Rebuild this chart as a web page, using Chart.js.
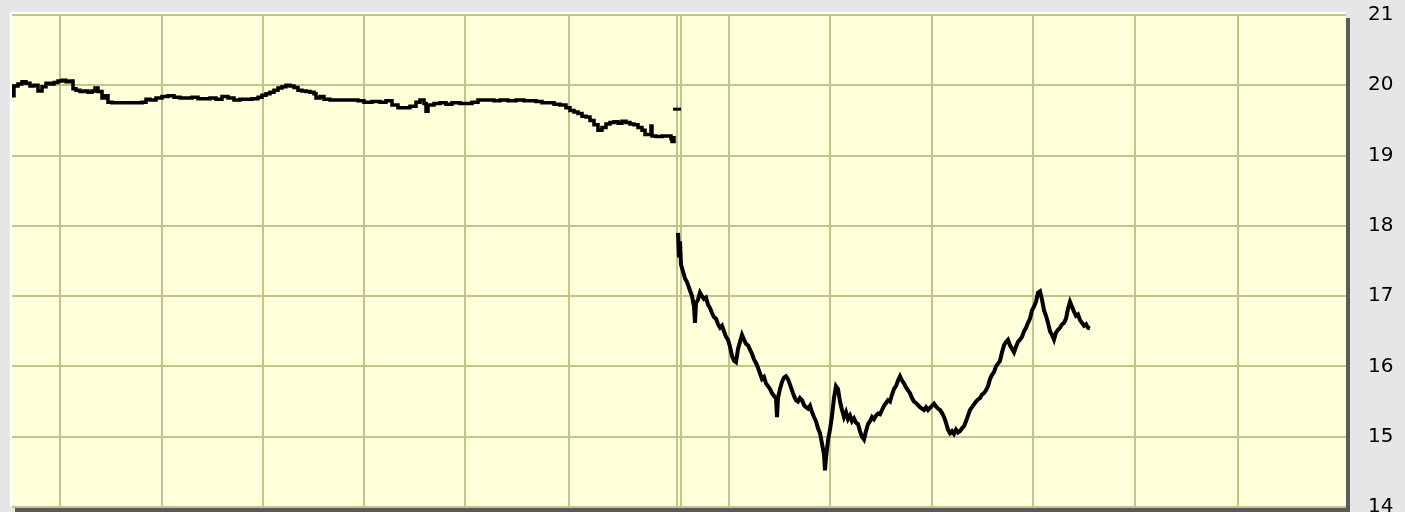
<!DOCTYPE html>
<html>
<head>
<meta charset="utf-8">
<script src="https://cdn.jsdelivr.net/npm/chart.js@4.4.1/dist/chart.umd.min.js"></script>
<style>
  html, body { margin: 0; padding: 0; background: #e6e6e6; }
  #wrap { width: 1405px; height: 512px; position: relative; }
</style>
</head>
<body>
<div id="wrap"><canvas id="price-chart"></canvas></div>
<script>
// price values; t is the time axis position
const preT = [12,13,14,18,22,26,30,34,38,42,46,50,54,58,62,66,70,73,76,80,84,88,92,95,98,102,105,108,112,120,128,136,142,146,150,156,162,168,174,180,186,192,198,204,210,216,222,228,234,240,246,252,258,262,266,270,274,278,282,286,290,294,298,302,306,310,314,316,320,324,330,340,350,358,364,372,380,386,392,398,404,410,416,420,424,426,428,434,440,446,452,460,466,472,478,486,494,500,508,516,524,530,536,542,548,554,560,566,570,574,578,582,586,590,594,598,602,606,610,614,618,622,626,630,634,638,642,645,648,651,652,656,662,668,671,672,674];
const prePrice = [19.99,19.85,19.99,20.02,20.05,20.03,19.99,20.0,19.92,19.98,20.03,20.02,20.04,20.06,20.07,20.05,20.06,19.95,19.93,19.91,19.92,19.9,19.92,19.96,19.91,19.82,19.85,19.76,19.75,19.75,19.75,19.75,19.76,19.8,19.79,19.82,19.84,19.85,19.83,19.82,19.82,19.83,19.81,19.81,19.82,19.8,19.84,19.82,19.79,19.8,19.8,19.81,19.83,19.86,19.88,19.9,19.93,19.96,19.98,20.0,19.99,19.97,19.93,19.92,19.91,19.9,19.88,19.82,19.84,19.8,19.79,19.79,19.79,19.78,19.76,19.77,19.76,19.78,19.72,19.68,19.68,19.7,19.76,19.79,19.74,19.63,19.72,19.74,19.75,19.73,19.75,19.74,19.74,19.76,19.79,19.79,19.78,19.79,19.78,19.79,19.78,19.78,19.77,19.75,19.75,19.73,19.72,19.68,19.64,19.62,19.6,19.56,19.55,19.5,19.44,19.36,19.4,19.45,19.47,19.48,19.46,19.49,19.47,19.45,19.44,19.4,19.36,19.3,19.3,19.42,19.28,19.27,19.28,19.28,19.24,19.2,19.28];

const gapT = [673, 681];
const gapPrice = [19.66, 19.66];

const postT = [678,679,680,681,683,685,687,690,692,694,695,696,698,700,702,704,706,708,710,712,714,716,718,720,722,724,726,728,730,732,734,736,738,740,742,744,746,748,750,752,754,756,758,760,762,764,766,768,770,772,774,776,777,778,780,782,784,786,788,790,792,794,796,798,800,802,804,806,808,810,812,814,816,818,820,822,824,825,826,828,830,832,834,836,838,840,842,844,846,848,850,852,854,856,858,860,862,864,866,868,870,872,874,876,878,880,882,884,886,888,890,892,894,896,898,900,902,904,906,908,910,912,914,916,918,920,922,924,926,928,930,932,934,936,938,940,942,944,946,948,950,952,954,956,958,960,962,964,966,968,970,972,974,976,978,980,982,984,986,988,990,992,994,996,998,1000,1002,1004,1006,1008,1010,1012,1014,1016,1018,1020,1022,1024,1026,1028,1030,1032,1034,1036,1038,1040,1042,1044,1046,1048,1050,1052,1054,1056,1058,1060,1062,1064,1066,1068,1070,1072,1074,1076,1078,1080,1082,1084,1086,1088,1090];
const postPrice = [17.9,17.55,17.78,17.45,17.35,17.25,17.2,17.08,17.0,16.85,16.62,16.9,16.95,17.05,17.0,16.96,16.98,16.88,16.83,16.76,16.7,16.68,16.6,16.55,16.58,16.5,16.42,16.38,16.28,16.15,16.08,16.06,16.25,16.35,16.45,16.38,16.32,16.3,16.24,16.18,16.1,16.05,15.98,15.9,15.82,15.85,15.76,15.72,15.68,15.62,15.58,15.55,15.28,15.55,15.68,15.78,15.84,15.86,15.82,15.74,15.66,15.58,15.52,15.5,15.55,15.52,15.45,15.42,15.4,15.44,15.35,15.28,15.22,15.12,15.05,14.9,14.75,14.52,14.7,14.95,15.1,15.3,15.55,15.72,15.68,15.5,15.38,15.28,15.35,15.25,15.3,15.22,15.26,15.2,15.18,15.08,15.0,14.96,15.08,15.18,15.22,15.28,15.25,15.3,15.33,15.32,15.38,15.44,15.48,15.52,15.5,15.6,15.68,15.72,15.8,15.86,15.8,15.76,15.7,15.66,15.62,15.55,15.5,15.48,15.45,15.42,15.4,15.38,15.42,15.38,15.41,15.44,15.47,15.43,15.4,15.38,15.34,15.28,15.2,15.1,15.05,15.08,15.04,15.1,15.06,15.08,15.12,15.15,15.22,15.3,15.38,15.42,15.46,15.5,15.53,15.55,15.6,15.62,15.66,15.72,15.82,15.88,15.92,16.0,16.04,16.08,16.2,16.3,16.35,16.38,16.3,16.25,16.2,16.28,16.35,16.38,16.42,16.5,16.55,16.62,16.68,16.8,16.85,16.92,17.05,17.07,16.95,16.8,16.72,16.62,16.5,16.45,16.38,16.48,16.52,16.55,16.6,16.62,16.68,16.82,16.92,16.85,16.78,16.72,16.74,16.66,16.62,16.58,16.6,16.55,16.54];

// vertical grid positions (period boundaries) and axis range
const gridT = [60, 161.7, 262.5, 363.8, 465, 568.5, 676.5, 680.5, 729, 830, 932.3, 1033.3, 1135, 1238];
const tRange = [12, 1346];
const priceTicks = [14, 15, 16, 17, 18, 19, 20, 21];

const toPoints = (xs, ys) => xs.map((x, i) => ({ x: x, y: ys[i] }));

// plot frame: shadow, white bevel, pale yellow fill
const framePlugin = {
  id: 'frame',
  beforeDraw(chart) {
    const { ctx, chartArea: a } = chart;
    ctx.save();
    ctx.fillStyle = '#e6e6e6';
    ctx.fillRect(0, 0, chart.width, chart.height);
    ctx.fillStyle = '#5a5a5a';
    ctx.fillRect(a.left + 3, a.top + 3, a.right - a.left + 1, a.bottom - a.top + 2);
    ctx.fillStyle = '#ffffff';
    ctx.fillRect(a.left - 2, a.top - 3, a.right - a.left + 2, a.bottom - a.top + 3);
    ctx.fillStyle = '#ffffd9';
    ctx.fillRect(a.left, a.top - 1, a.right - a.left, a.bottom - a.top + 1);
    ctx.restore();
  }
};

new Chart(document.getElementById('price-chart'), {
  type: 'line',
  data: {
    datasets: [
      { data: toPoints(preT, prePrice), borderColor: '#000', borderWidth: 3.5, pointRadius: 0, stepped: true },
      { data: toPoints(gapT, gapPrice), borderColor: '#000', borderWidth: 3, pointRadius: 0 },
      { data: toPoints(postT, postPrice), borderColor: '#000', borderWidth: 4, pointRadius: 0 }
    ]
  },
  options: {
    responsive: true,
    maintainAspectRatio: false,
    animation: false,
    layout: { padding: { left: 12, top: 15, right: 10, bottom: 5 } },
    plugins: { legend: { display: false }, tooltip: { enabled: false } },
    scales: {
      x: {
        type: 'linear',
        position: 'bottom',
        min: tRange[0],
        max: tRange[1],
        afterBuildTicks: s => { s.ticks = gridT.map(v => ({ value: v })); },
        afterFit: s => { s.height = 0; s.paddingLeft = 0; s.paddingRight = 0; s.paddingTop = 0; s.paddingBottom = 0; },
        ticks: { display: false },
        grid: { color: '#c4c48a', lineWidth: 2, drawTicks: false },
        border: { display: false }
      },
      y: {
        position: 'right',
        min: priceTicks[0],
        max: priceTicks[priceTicks.length - 1],
        afterBuildTicks: s => { s.ticks = priceTicks.map(v => ({ value: v })); },
        afterFit: s => { s.width = 49; s.paddingTop = 0; s.paddingBottom = 0; s.paddingLeft = 0; s.paddingRight = 0; },
        ticks: {
          color: '#000',
          padding: 22,
          font: { family: "'DejaVu Sans', Verdana, sans-serif", size: 20 }
        },
        grid: { color: '#c4c48a', lineWidth: 2, drawTicks: false },
        border: { display: false }
      }
    }
  },
  plugins: [framePlugin]
});
</script>
</body>
</html>
